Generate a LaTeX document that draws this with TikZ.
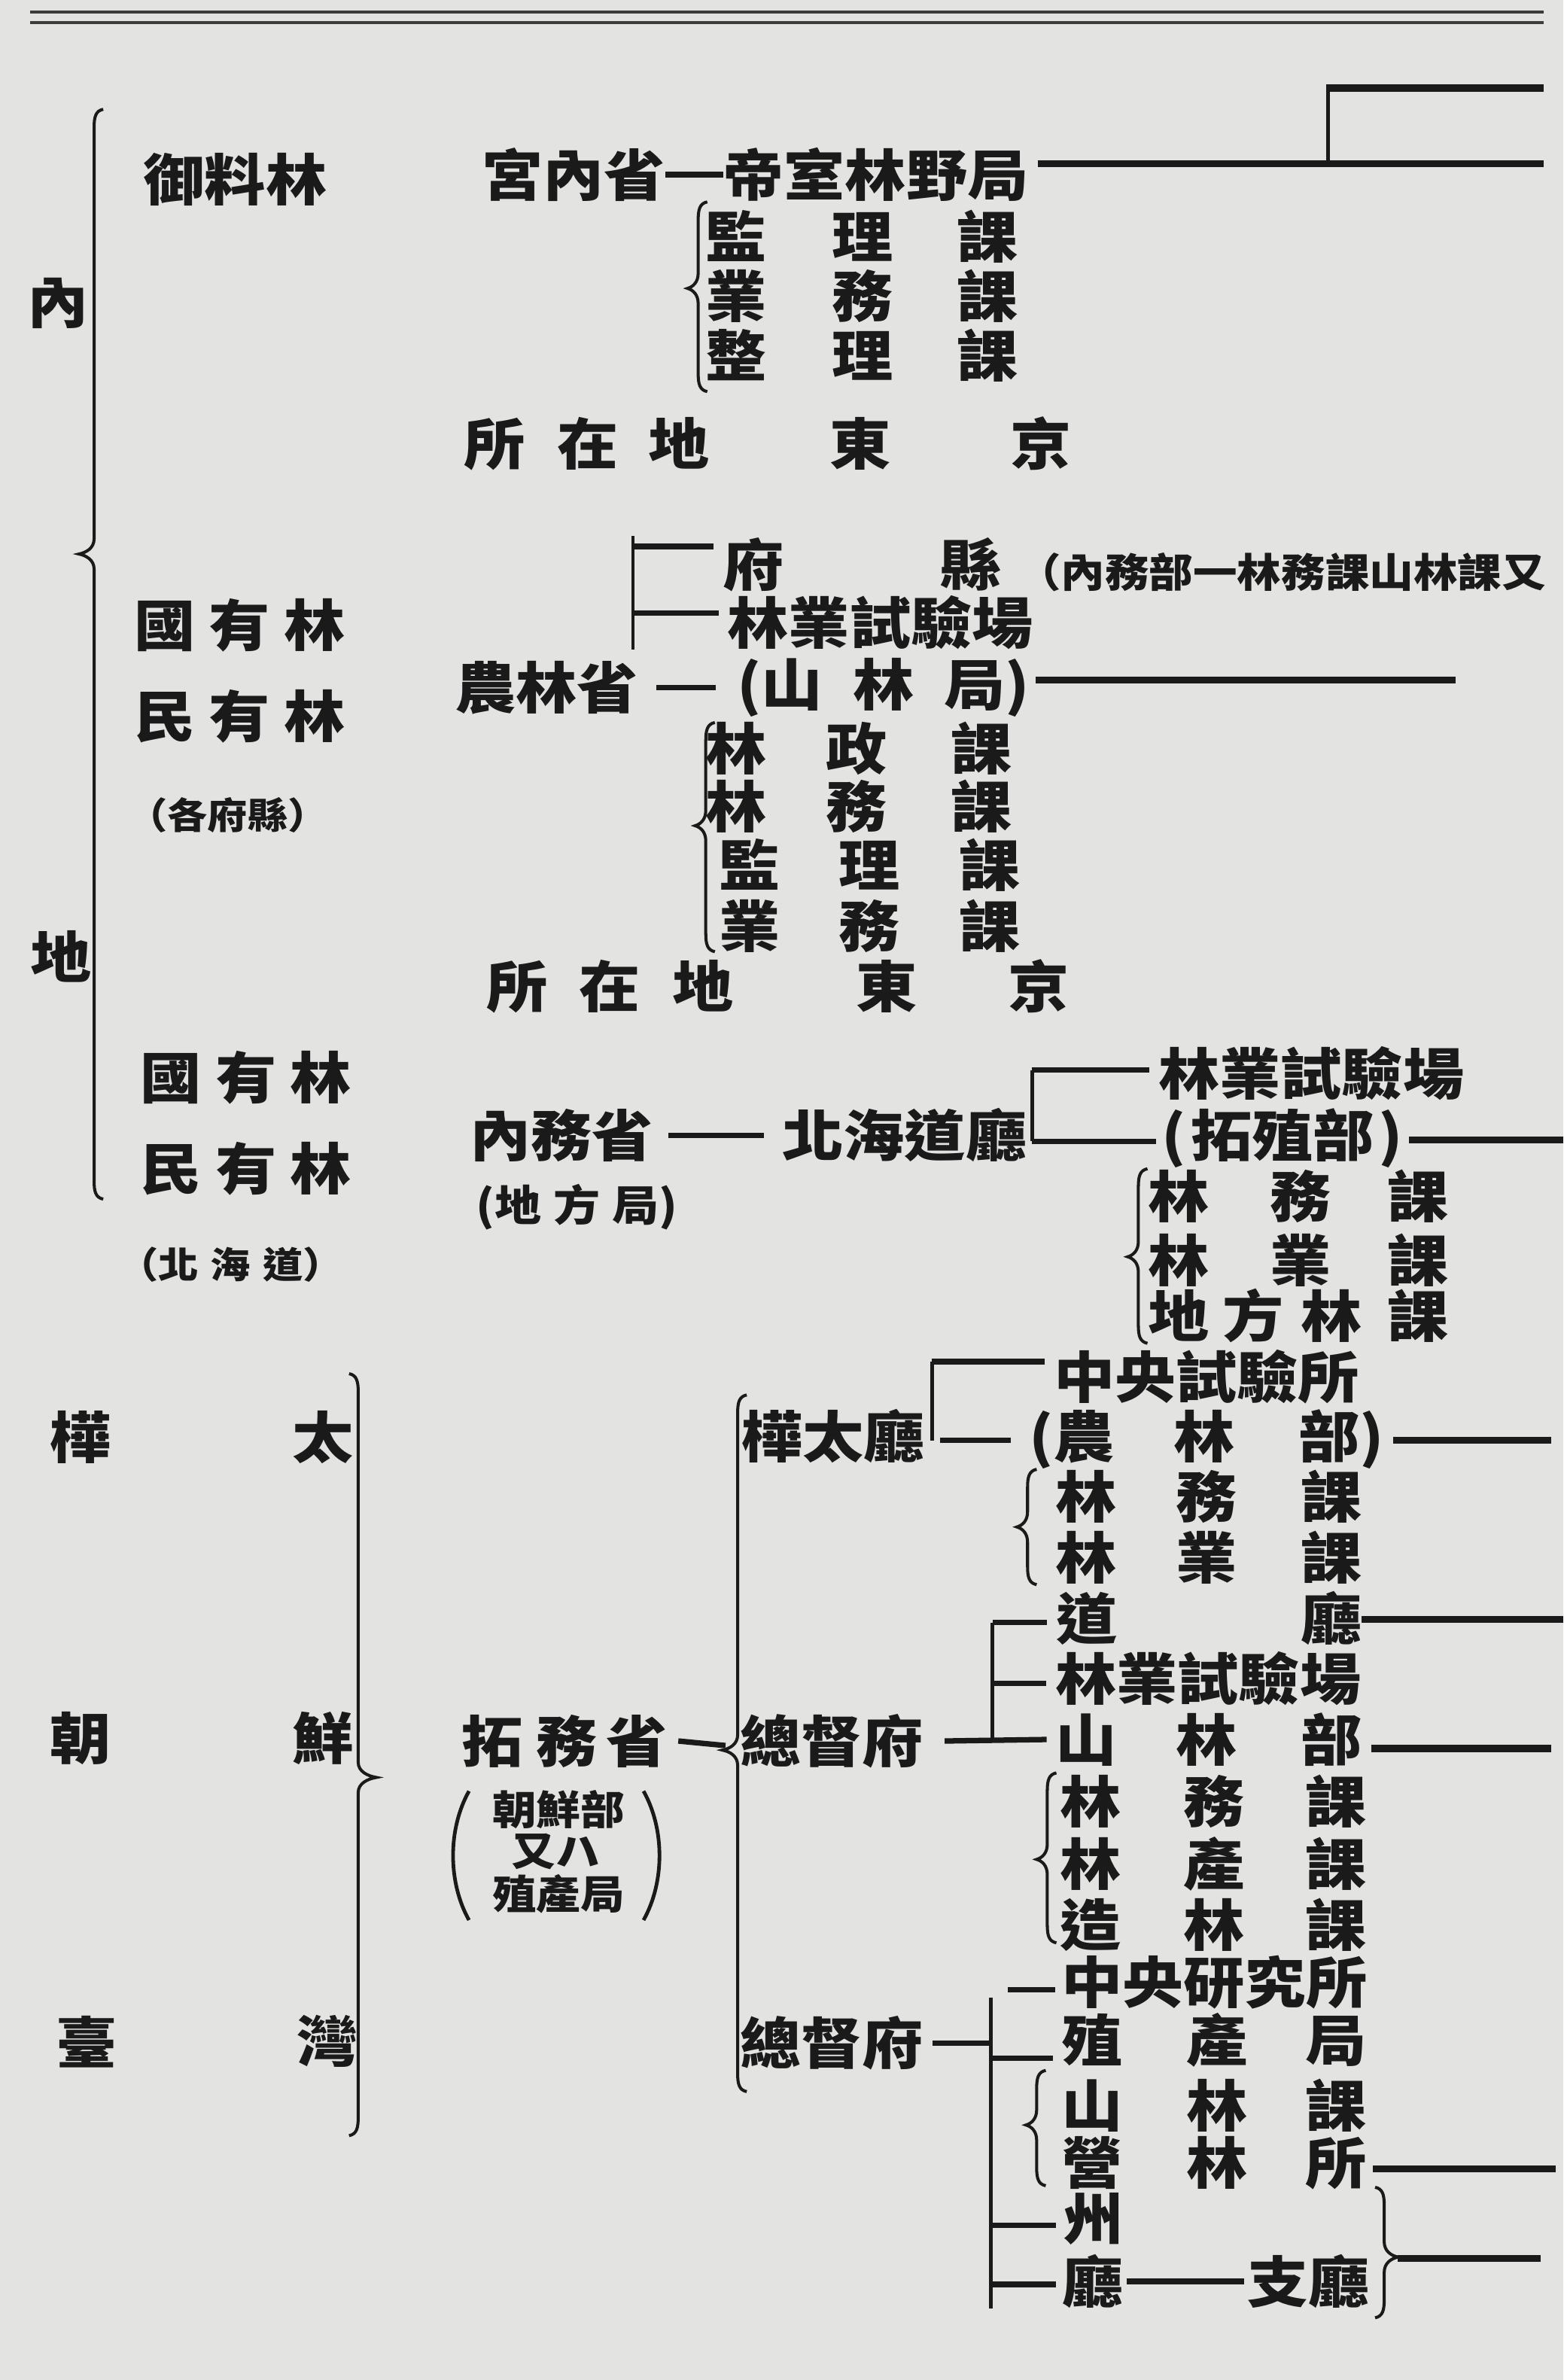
\documentclass[tikz,border=0pt]{standalone}
\usepackage{fontspec}
\setmainfont{Noto Sans CJK TC}[FakeStretch=1.1]
\definecolor{paper}{RGB}{227,227,225}
\definecolor{ink}{RGB}{26,26,26}
\newcommand{\gapu}[1]{\hspace*{\dimexpr#1pt/2\relax}}
\newcommand{\mybraceL}[5]{%
\draw[brc] (#1+6,#2) .. controls (#1+1,#2+1) and (#1,#2+5) .. (#1,#2+12)
 -- (#1,#3-10) .. controls (#1,#3-4) and (#1-#5/2,#3-1) .. (#1-#5,#3)
 .. controls (#1-#5/2,#3+1) and (#1,#3+4) .. (#1,#3+10)
 -- (#1,#4-12) .. controls (#1,#4-5) and (#1+1,#4-1) .. (#1+6,#4);}
\newcommand{\mybraceR}[5]{%
\draw[brc] (#1-6,#2) .. controls (#1-1,#2+1) and (#1,#2+5) .. (#1,#2+12)
 -- (#1,#3-10) .. controls (#1,#3-4) and (#1+#5/2,#3-1) .. (#1+#5,#3)
 .. controls (#1+#5/2,#3+1) and (#1,#3+4) .. (#1,#3+10)
 -- (#1,#4-12) .. controls (#1,#4-5) and (#1-1,#4-1) .. (#1-6,#4);}
\tikzset{
 t/.style={inner sep=0pt,outer sep=0pt,text=ink,font=\fontsize{18.3}{20}\selectfont\bfseries},
 ts/.style={inner sep=0pt,outer sep=0pt,text=ink,font=\fontsize{12}{14}\selectfont\bfseries},
 ts2/.style={inner sep=0pt,outer sep=0pt,text=ink,font=\fontsize{13.2}{15}\selectfont\bfseries},
 ts3/.style={inner sep=0pt,outer sep=0pt,text=ink,font=\fontsize{14}{16}\selectfont\bfseries},
 heavy/.style={draw=ink,line width=2.3pt},
 tick/.style={draw=ink,line width=1.8pt},
 bar/.style={draw=ink,line width=1.2pt},
 brc/.style={draw=ink,line width=1pt},
 rule/.style={draw=ink!85,line width=0.9pt},
}
\begin{document}
\begin{tikzpicture}[x=0.5pt,y=-0.5pt]
\fill[paper] (0,0) rectangle (1030,1568);
\useasboundingbox (0,0) rectangle (1030,1568);
% header rule
\draw[rule] (20,8) -- (1017,8);
\draw[rule] (20,15) -- (1017,15);

% big left brace
\node[t] (nei) at (38,200) {內};
\node[t] (di) at (40,630) {地};
\mybraceL{62}{72}{365}{790}{10}

% left labels
\node[t] (goryo) at (155,118) {御料林};
\node[t] (koku1) at (158,412) {國\gapu{9}有\gapu{9}林};
\node[t] (min1) at (158,472) {民\gapu{9}有\gapu{9}林};
\node[ts] (kakufu) at (150,537) {（各府縣）};
\node[t] (koku2) at (162,710) {國\gapu{9}有\gapu{9}林};
\node[t] (min2) at (162,770) {民\gapu{9}有\gapu{9}林};
\node[ts] (hokkai) at (152,833) {（北\gapu{8}海\gapu{8}道）};

% block 1
\node[t] (gunai) at (378,115) {宮內省};
\node[t] (teishitsu) at (577,115) {帝室林野局};
\draw[tick] (gunai.east) -- (teishitsu.west);
\coordinate (e1) at (1017,108);
\coordinate (e0) at (1017,58);
\coordinate (j1) at (875,108);
\draw[heavy] ([xshift=3pt]teishitsu.east |- e1) -- (e1);
\draw[bar] (j1) -- (j1 |- e0);
\draw[heavy] ([xshift=-0.6pt]j1 |- e0) -- (e0);
\mybraceL{460}{133}{190}{258}{7}
\node[t] (kanri1) at (568,156) {監\gapu{43}理\gapu{42}課};
\node[t] (gyomu1) at (568,195) {業\gapu{43}務\gapu{42}課};
\node[t] (seiri1) at (568,234) {整\gapu{43}理\gapu{42}課};
\node[t] (loc1) at (506,292) {所\gapu{21}在\gapu{20}地\gapu{79}東\gapu{79}京};

% block 2
\node[t] (fuken) at (568,372) {府\gapu{103}縣};
\node[ts2,anchor=west] (naimubu) at (670,377) {（內務部一林務課山林課又};
\coordinate (b2t) at (417,353);
\coordinate (b2b) at (417,428);
\coordinate (t2a) at (417,360);
\coordinate (t2b) at (417,404);
\draw[bar] (b2t) -- (b2b);
\node[t] (ringyo1) at (580,410) {林業試驗場};
\draw[tick] (t2a) -- ([xshift=-3pt]fuken.west |- t2a);
\draw[tick] (t2b) -- ([xshift=-3pt]ringyo1.west |- t2b);
\node[t] (norin) at (360,453) {農林省};
\node[t] (sanrin) at (582,453) {(山\gapu{20}林\gapu{20}局)};
\draw[tick,shorten <=6pt,shorten >=7pt] (norin.east) -- (sanrin.west);
\coordinate (e2) at (959,448);
\draw[heavy] ([xshift=2pt]sanrin.east |- e2) -- (e2);
\mybraceL{465}{476}{544}{627}{7}
\node[t] (rinsei) at (566,493) {林\gapu{39}政\gapu{42}課};
\node[t] (rinmu2) at (566,531) {林\gapu{39}務\gapu{42}課};
\node[t] (kanri2) at (573,570) {監\gapu{39}理\gapu{39}課};
\node[t] (gyomu2) at (573,610) {業\gapu{39}務\gapu{39}課};
\node[t] (loc2) at (512.5,650) {所\gapu{21}在\gapu{21}地\gapu{81}東\gapu{60}京};

% block 3
\node[t] (naimusho) at (370,748) {內務省};
\node[ts3] (chiho) at (380,795) {(地\gapu{8}方\gapu{8}局)};
\node[t] (hokkaido) at (596,748) {北海道廳};
\draw[tick,shorten <=5pt,shorten >=6pt] (naimusho.east) -- (hokkaido.west);
\coordinate (b3t) at (680,705);
\coordinate (b3b) at (680,752);
\draw[bar] (b3t) -- (b3b);
\node[t] (ringyo2) at (864,707) {林業試驗場};
\node[t] (takushoku) at (845,750) {(\gapu{3}拓殖部\gapu{3})};
\draw[tick] (b3t) -- ([xshift=-3pt]ringyo2.west |- b3t);
\draw[tick] (b3b) -- ([xshift=-2pt]takushoku.west |- b3b);
\coordinate (e3) at (1030,751);
\draw[heavy] ([xshift=2pt]takushoku.east |- e3) -- (e3);
\mybraceL{750}{770}{828}{885}{7}
\node[t] (rinmu3) at (855.5,788) {林\gapu{40}務\gapu{37}課};
\node[t] (ringyo3) at (855.5,830) {林\gapu{40}業\gapu{37}課};
\node[t] (chihorin) at (855.5,867) {地\gapu{9}方\gapu{11}林\gapu{17}課};

% block 4 left
\mybraceR{236}{905}{1171}{1407}{12}
\node[t] (kara1) at (53,947) {樺};
\node[t] (kara2) at (213,947) {太};
\node[t] (cho1) at (53,1145) {朝};
\node[t] (cho2) at (213,1145) {鮮};
\node[t] (tai1) at (57,1345) {臺};
\node[t] (tai2) at (216,1345) {灣};
\node[t] (takumu) at (372,1147) {拓\gapu{9}務\gapu{6}省};
\node[ts2] (sub1) at (368,1192) {朝鮮部};
\node[ts2] (sub2) at (366,1220) {又ハ};
\node[ts2] (sub3) at (368,1248) {殖產局};
\draw[bar] (309,1180) .. controls (295,1205) and (295,1240) .. (309,1265);
\draw[bar] (424,1180) .. controls (438,1205) and (438,1240) .. (424,1265);
\coordinate (cusp2) at (478,1150);
\draw[tick] ([xshift=3.5pt]takumu.east) -- (cusp2);
\mybraceL{486}{919}{1153}{1378}{10}

% karafuto
\node[t] (karafutocho) at (549,946) {樺太廳};
\coordinate (b4t) at (614,897);
\coordinate (b4b) at (614,949);
\draw[bar] (b4t) -- (b4b);
\node[t] (chuo1) at (795,907) {中央試驗所};
\node[t] (norinbu) at (795,948) {(農\gapu{39}林\gapu{42}部)};
\draw[tick] (b4t) -- ([xshift=-3pt]chuo1.west |- b4t);
\draw[tick] ([xshift=5pt]karafutocho.east |- b4b) -- ([xshift=-6pt]norinbu.west |- b4b);
\coordinate (e4a) at (1022,949);
\draw[heavy] ([xshift=3pt]norinbu.east |- e4a) -- (e4a);
\mybraceL{677}{968}{1006}{1044}{7}
\node[t] (rinmu4) at (796.5,986) {林\gapu{39}務\gapu{42}課};
\node[t] (ringyo4) at (796.5,1026) {林\gapu{39}業\gapu{42}課};
\node[t] (docho) at (796.5,1066) {道\gapu{121}廳};
\coordinate (e4b) at (1030,1067);
\draw[heavy] (docho.east |- e4b) -- (e4b);

% korea
\coordinate (b5t) at (654,1069);
\coordinate (b5b) at (654,1148);
\coordinate (t5m) at (654,1109);
\draw[bar] (b5t) -- (b5b);
\draw[tick] (b5t) -- ([xshift=-3pt]docho.west |- b5t);
\node[t] (ringyo5) at (796,1106) {林業試驗場};
\draw[tick] (t5m) -- ([xshift=-3pt]ringyo5.west |- t5m);
\node[t] (sotoku1) at (548,1147) {總督府};
\node[t] (sanrinbu) at (796.5,1146) {山\gapu{39}林\gapu{42}部};
\draw[tick] ([xshift=7pt]sotoku1.east) -- ([xshift=-3pt]sanrinbu.west);
\coordinate (e4c) at (1022,1152);
\draw[heavy] ([xshift=3pt]sanrinbu.east |- e4c) -- (e4c);
\mybraceL{690}{1168}{1225}{1280}{7}
\node[t] (rinmu5) at (799.5,1187) {林\gapu{41}務\gapu{40}課};
\node[t] (rinsan) at (799.5,1228) {林\gapu{41}產\gapu{40}課};
\node[t] (zorin) at (799.5,1268) {造\gapu{41}林\gapu{40}課};

% taiwan
\node[t] (chuo2) at (800,1306) {中央研究所};
\coordinate (t6a) at (664,1311);
\draw[tick] (t6a) -- ([xshift=-2pt]chuo2.west |- t6a);
\node[t] (sotoku2) at (548,1346) {總督府};
\coordinate (b6t) at (653,1316);
\coordinate (b6b) at (653,1521);
\draw[bar] (b6t) -- (b6b);
\draw[tick] ([xshift=3pt]sotoku2.east) -- (sotoku2.east -| b6t);
\node[t] (shokusan) at (800,1344) {殖\gapu{42}產\gapu{38}局};
\coordinate (t6b) at (653,1356);
\draw[tick] (t6b) -- ([xshift=-3pt]shokusan.west |- t6b);
\mybraceL{683}{1364}{1400}{1440}{7}
\node[t] (sanrinka) at (800,1387) {山\gapu{42}林\gapu{38}課};
\node[t] (eirin) at (800,1425) {營\gapu{42}林\gapu{38}所};
\coordinate (e6a) at (1025,1429);
\draw[heavy] ([xshift=2pt]eirin.east |- e6a) -- (e6a);
\mybraceR{912}{1441}{1487}{1527}{9}
\coordinate (c6) at (921,1488);
\coordinate (e6b) at (1015,1488);
\draw[heavy] (c6) -- (e6b);
\node[t] (shu) at (720,1462) {州};
\node[t] (cho) at (720,1503) {廳};
\coordinate (t6c) at (653,1466);
\coordinate (t6d) at (653,1505);
\draw[tick] (t6c) -- ([xshift=-2pt]shu.west |- t6c);
\draw[tick] (t6d) -- ([xshift=-2pt]cho.west |- t6d);
\node[t] (shicho) at (862,1503) {支廳};
\draw[tick] ([xshift=1pt]cho.east) -- ([xshift=-1pt]shicho.west);
\end{tikzpicture}
\end{document}
